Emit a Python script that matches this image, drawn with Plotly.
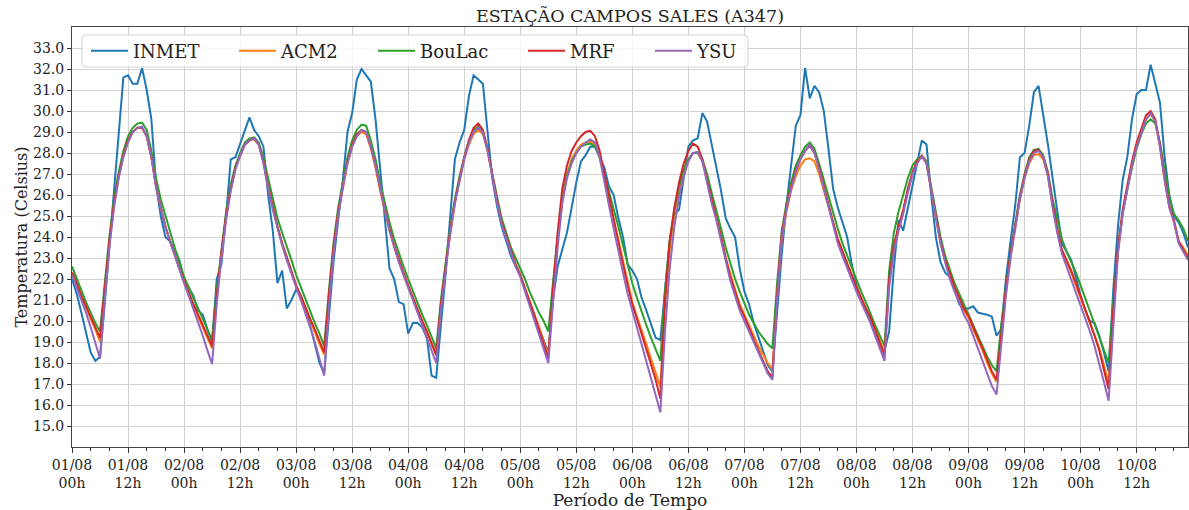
import plotly.graph_objects as go

# Hourly temperatures, 01/08 00h .. 10/08 23h (one row per day)
INMET = [
    22.0, 21.3, 20.4, 19.4, 18.5, 18.1, 18.3, 20.8, 23.6, 26.3, 29.0, 31.6, 31.7, 31.3, 31.3, 32.05, 31.0, 29.6, 26.5, 25.0, 24.0, 23.8, 23.4, 22.9,
    22.0, 21.6, 21.2, 20.5, 20.3, 19.6, 19.0, 22.0, 22.7, 25.0, 27.7, 27.8, 28.4, 29.1, 29.7, 29.1, 28.8, 28.3, 26.0, 24.3, 21.8, 22.4, 20.6, 21.0,
    21.5, 21.2, 20.6, 19.8, 18.9, 18.0, 17.5, 20.0, 22.8, 24.8, 26.7, 29.0, 29.9, 31.5, 32.0, 31.7, 31.4, 29.6, 27.3, 25.0, 22.5, 22.0, 20.9, 20.8,
    19.4, 19.9, 19.9, 19.7, 19.2, 17.4, 17.3, 19.8, 22.2, 25.0, 27.7, 28.5, 29.1, 30.7, 31.7, 31.5, 31.3, 29.0, 26.8, 25.5, 24.5, 23.8, 23.1, 22.6,
    22.2, 21.5, 20.9, 20.2, 19.6, 19.1, 18.5, 21.0, 22.6, 23.4, 24.2, 25.4, 26.6, 27.6, 27.9, 28.3, 28.3, 27.8, 27.3, 26.4, 26.0, 24.9, 24.0, 22.7,
    22.4, 22.0, 21.1, 20.5, 19.8, 19.2, 19.1, 21.3, 23.8, 25.1, 25.3, 26.8, 28.3, 28.6, 28.7, 29.9, 29.5, 28.4, 27.3, 26.2, 24.9, 24.4, 24.0, 22.5,
    21.4, 20.8, 19.9, 19.2, 18.5, 17.9, 17.6, 20.5, 23.2, 25.5, 27.3, 29.3, 29.8, 32.05, 30.6, 31.2, 30.9, 30.0, 28.2, 26.3, 25.4, 24.7, 24.0, 22.7,
    21.7, 21.0, 20.5, 20.0, 19.3, 18.8, 18.6, 19.5, 22.5, 24.8, 24.3, 25.4, 26.5, 27.6, 28.6, 28.4, 26.0, 24.0, 22.8, 22.3, 22.1, 21.5, 20.8, 20.6,
    20.6, 20.7, 20.4, 20.35, 20.3, 20.2, 19.3, 19.6, 22.0, 23.8, 25.5, 27.8, 28.0, 29.3, 30.9, 31.2, 29.9, 28.4, 26.8, 25.3, 23.7, 23.3, 22.9, 22.1,
    21.2, 20.5, 20.0, 19.9, 19.3, 18.5, 17.6, 21.5, 24.5, 26.7, 27.8, 29.6, 30.8, 31.0, 31.0, 32.2, 31.3, 30.4, 27.8, 26.0, 25.0, 24.7, 24.2, 23.5,
]

ACM2 = [
    22.3, 21.8, 21.2, 20.6, 20.1, 19.6, 19.0, 21.4, 23.7, 25.5, 26.9, 27.9, 28.6, 29.0, 29.2, 29.2, 28.8, 27.8, 26.4, 25.4, 24.5, 23.8, 23.1, 22.5,
    21.9, 21.3, 20.8, 20.2, 19.7, 19.2, 18.7, 21.1, 23.2, 25.0, 26.3, 27.3, 27.9, 28.4, 28.6, 28.65, 28.4, 27.6, 26.4, 25.4, 24.5, 23.7, 23.0, 22.3,
    21.7, 21.2, 20.6, 20.0, 19.5, 18.9, 18.4, 21.1, 23.4, 25.1, 26.4, 27.5, 28.3, 28.8, 29.0, 28.9, 28.2, 27.3, 26.2, 25.2, 24.3, 23.5, 22.8, 22.2,
    21.6, 21.0, 20.5, 20.0, 19.4, 18.9, 18.35, 20.7, 22.6, 24.2, 25.6, 26.7, 27.7, 28.4, 28.9, 29.1, 28.9, 28.1, 26.9, 25.8, 24.7, 24.0, 23.3, 22.7,
    22.2, 21.6, 20.9, 20.3, 19.7, 19.0, 18.35, 21.2, 23.8, 25.8, 27.0, 27.7, 28.1, 28.4, 28.5, 28.55, 28.4, 27.8, 26.8, 25.8, 24.8, 23.8, 22.8, 21.8,
    20.9, 20.2, 19.6, 18.9, 18.2, 17.5, 16.85, 20.8, 23.4, 25.1, 26.3, 27.2, 27.7, 28.0, 28.0, 27.6, 26.7, 25.8, 25.0, 24.0, 23.0, 22.2, 21.5, 20.8,
    20.3, 19.8, 19.3, 18.8, 18.4, 18.0, 17.7, 21.2, 23.9, 25.2, 26.2, 26.9, 27.4, 27.7, 27.75, 27.6, 27.0, 26.2, 25.4, 24.6, 23.9, 23.3, 22.7, 22.1,
    21.6, 21.1, 20.6, 20.2, 19.6, 19.1, 18.5, 21.8, 23.5, 24.4, 25.2, 26.2, 27.0, 27.6, 27.9, 27.6, 26.2, 24.9, 23.7, 22.8, 22.1, 21.5, 21.0, 20.5,
    20.15, 19.6, 19.1, 18.6, 18.0, 17.5, 17.1, 19.4, 21.4, 23.1, 24.4, 25.8, 26.8, 27.5, 27.9, 27.95, 27.7, 26.9, 25.5, 24.3, 23.3, 22.8, 22.3, 21.7,
    21.1, 20.5, 19.9, 19.3, 18.7, 17.9, 17.0, 20.3, 23.3, 25.1, 26.3, 27.4, 28.3, 29.0, 29.6, 29.85, 29.5, 28.3, 26.7, 25.4, 24.7, 23.8, 23.5, 23.1,
]

BOULAC = [
    22.6, 22.0, 21.4, 20.9, 20.4, 19.9, 19.5, 21.8, 24.0, 25.8, 27.1, 28.1, 28.8, 29.2, 29.4, 29.45, 29.1, 28.1, 26.8, 25.8, 25.0, 24.2, 23.5, 22.8,
    22.1, 21.6, 21.1, 20.6, 20.1, 19.6, 19.1, 21.5, 23.5, 25.2, 26.5, 27.4, 28.0, 28.5, 28.7, 28.75, 28.5, 27.8, 26.8, 25.8, 24.9, 24.2, 23.6, 22.9,
    22.2, 21.6, 21.0, 20.5, 19.9, 19.4, 18.8, 21.4, 23.7, 25.4, 26.7, 27.8, 28.6, 29.1, 29.35, 29.3, 28.6, 27.7, 26.6, 25.6, 24.7, 23.9, 23.2, 22.6,
    22.0, 21.4, 20.8, 20.3, 19.8, 19.2, 18.7, 21.0, 22.9, 24.5, 25.8, 26.9, 27.8, 28.6, 29.1, 29.25, 29.0, 28.2, 27.0, 25.9, 24.9, 24.2, 23.5, 23.0,
    22.5, 22.0, 21.4, 20.9, 20.4, 20.0, 19.5, 21.8, 24.0, 25.8, 26.9, 27.6, 28.0, 28.3, 28.4, 28.45, 28.3, 27.8, 27.0, 26.2, 25.4, 24.5, 23.6, 22.7,
    21.8, 21.1, 20.4, 19.8, 19.2, 18.6, 18.1, 21.5, 23.8, 25.3, 26.4, 27.2, 27.7, 28.0, 28.0, 27.7, 27.0, 26.1, 25.3, 24.4, 23.5, 22.7, 22.0, 21.4,
    20.8, 20.3, 19.9, 19.5, 19.2, 18.9, 18.7, 21.8, 24.3, 25.6, 26.6, 27.4, 27.9, 28.3, 28.5, 28.2, 27.5, 26.7, 25.9, 25.1, 24.4, 23.7, 23.1, 22.6,
    22.0, 21.4, 20.9, 20.3, 19.8, 19.3, 18.8, 22.4, 24.2, 25.2, 26.0, 26.8, 27.4, 27.7, 27.85, 27.6, 26.4, 25.1, 24.0, 23.1, 22.4, 21.8, 21.3, 20.8,
    20.3, 19.8, 19.3, 18.8, 18.3, 17.9, 17.6, 19.8, 21.7, 23.3, 24.6, 26.0, 27.0, 27.8, 28.15, 28.2, 27.9, 27.1, 25.8, 24.8, 23.9, 23.3, 22.8, 22.3,
    21.7, 21.1, 20.5, 19.9, 19.3, 18.7, 18.0, 20.9, 23.4, 25.1, 26.3, 27.3, 28.2, 28.9, 29.4, 29.6, 29.4, 28.5, 27.1, 25.9, 25.1, 24.8, 24.4, 23.8,
]

MRF = [
    22.3, 21.8, 21.2, 20.7, 20.2, 19.7, 19.2, 21.5, 23.8, 25.6, 26.9, 27.9, 28.6, 29.0, 29.2, 29.2, 28.8, 27.8, 26.4, 25.4, 24.5, 23.8, 23.1, 22.5,
    21.9, 21.3, 20.8, 20.3, 19.8, 19.3, 18.8, 21.2, 23.3, 25.0, 26.3, 27.3, 27.9, 28.4, 28.6, 28.7, 28.4, 27.6, 26.4, 25.4, 24.5, 23.7, 23.0, 22.3,
    21.7, 21.2, 20.6, 20.1, 19.6, 19.0, 18.5, 21.2, 23.5, 25.2, 26.5, 27.6, 28.4, 28.9, 29.1, 29.0, 28.3, 27.4, 26.3, 25.3, 24.4, 23.6, 22.9, 22.3,
    21.7, 21.1, 20.5, 20.0, 19.5, 18.9, 18.4, 20.8, 22.7, 24.3, 25.7, 26.8, 27.8, 28.6, 29.2, 29.4, 29.1, 28.2, 26.9, 25.8, 24.7, 24.0, 23.3, 22.7,
    22.2, 21.6, 20.9, 20.3, 19.6, 18.9, 18.2, 21.5, 24.2, 26.3, 27.4, 28.1, 28.5, 28.8, 29.0, 29.05, 28.8, 28.1, 27.0, 25.9, 24.9, 23.8, 22.7, 21.7,
    20.8, 20.1, 19.4, 18.7, 18.0, 17.2, 16.3, 21.0, 23.8, 25.4, 26.6, 27.5, 28.1, 28.45, 28.3, 27.7, 26.7, 25.8, 25.0, 24.0, 23.0, 22.1, 21.4, 20.7,
    20.2, 19.7, 19.1, 18.6, 18.1, 17.6, 17.3, 21.3, 24.2, 25.4, 26.4, 27.2, 27.7, 28.1, 28.35, 28.0, 27.3, 26.4, 25.6, 24.7, 23.9, 23.3, 22.7, 22.1,
    21.6, 21.1, 20.6, 20.2, 19.6, 19.0, 18.35, 22.0, 23.6, 24.5, 25.3, 26.3, 27.1, 27.6, 27.85, 27.5, 26.2, 25.0, 23.8, 22.9, 22.2, 21.6, 21.1, 20.6,
    20.25, 19.7, 19.2, 18.7, 18.1, 17.6, 17.2, 19.5, 21.5, 23.2, 24.5, 25.9, 26.9, 27.7, 28.1, 28.15, 27.8, 27.0, 25.6, 24.4, 23.4, 22.9, 22.4, 21.8,
    21.2, 20.6, 20.0, 19.3, 18.6, 17.7, 16.75, 20.5, 23.5, 25.3, 26.5, 27.6, 28.5, 29.2, 29.8, 30.0, 29.6, 28.4, 26.8, 25.5, 24.8, 23.8, 23.4, 23.0,
]

YSU = [
    22.2, 21.6, 21.05, 20.4, 19.7, 18.9, 18.2, 21.0, 23.5, 25.4, 26.8, 27.8, 28.5, 29.0, 29.2, 29.25, 28.8, 27.8, 26.4, 25.4, 24.5, 23.8, 23.1, 22.5,
    21.8, 21.2, 20.6, 20.0, 19.3, 18.6, 17.95, 20.8, 23.1, 24.8, 26.2, 27.2, 27.9, 28.4, 28.6, 28.7, 28.4, 27.5, 26.3, 25.3, 24.4, 23.6, 22.9, 22.2,
    21.6, 21.0, 20.4, 19.7, 19.0, 18.2, 17.4, 20.6, 23.2, 25.0, 26.4, 27.5, 28.3, 28.8, 29.1, 29.0, 28.3, 27.4, 26.3, 25.3, 24.3, 23.5, 22.8, 22.2,
    21.6, 21.0, 20.4, 19.8, 19.2, 18.6, 18.0, 20.5, 22.5, 24.2, 25.6, 26.7, 27.7, 28.5, 29.0, 29.2, 29.0, 28.1, 26.8, 25.7, 24.6, 23.9, 23.2, 22.6,
    22.1, 21.4, 20.8, 20.1, 19.4, 18.7, 18.0, 20.8, 23.5, 25.6, 26.8, 27.5, 28.0, 28.3, 28.5, 28.65, 28.5, 27.8, 26.6, 25.5, 24.4, 23.3, 22.3, 21.3,
    20.5, 19.7, 18.9, 18.1, 17.3, 16.5, 15.65, 19.5, 22.5, 24.5, 25.9, 26.9, 27.6, 28.0, 28.05, 27.6, 26.6, 25.6, 24.8, 23.8, 22.8, 21.9, 21.2, 20.5,
    20.0, 19.5, 19.0, 18.5, 18.0, 17.5, 17.2, 21.0, 24.0, 25.3, 26.3, 27.1, 27.7, 28.1, 28.4, 28.0, 27.2, 26.3, 25.4, 24.5, 23.7, 23.1, 22.5, 21.9,
    21.4, 20.9, 20.4, 19.9, 19.3, 18.7, 18.1, 21.6, 23.3, 24.3, 25.1, 26.1, 27.0, 27.5, 27.85, 27.5, 26.2, 24.9, 23.7, 22.8, 22.0, 21.4, 20.9, 20.3,
    19.9, 19.3, 18.7, 18.1, 17.5, 16.9, 16.5, 19.0, 21.2, 23.0, 24.4, 25.8, 26.8, 27.6, 28.0, 28.1, 27.8, 26.9, 25.4, 24.2, 23.2, 22.6, 22.0, 21.4,
    20.8, 20.2, 19.5, 18.8, 18.0, 17.1, 16.2, 20.0, 23.2, 25.1, 26.3, 27.4, 28.3, 29.0, 29.6, 29.9, 29.5, 28.3, 26.7, 25.4, 24.7, 23.7, 23.3, 22.9,
]

SERIES_NAMES = ["INMET", "ACM2", "BouLac", "MRF", "YSU"]
SERIES_COLORS = ["#1f77b4", "#ff7f0e", "#2ca02c", "#d62728", "#9467bd"]

TICK_LABELS = [
    "01/08<br>00h", "01/08<br>12h", "02/08<br>00h", "02/08<br>12h", "03/08<br>00h",
    "03/08<br>12h", "04/08<br>00h", "04/08<br>12h", "05/08<br>00h", "05/08<br>12h",
    "06/08<br>00h", "06/08<br>12h", "07/08<br>00h", "07/08<br>12h", "08/08<br>00h",
    "08/08<br>12h", "09/08<br>00h", "09/08<br>12h", "10/08<br>00h", "10/08<br>12h",
]
Y_TICKS = [15, 16, 17, 18, 19, 20, 21, 22, 23, 24, 25, 26, 27, 28, 29, 30, 31, 32, 33]

W, H = 1189, 510
ML, MR, MT, MB = 72, 1, 27, 63
PW, PH = W - ML - MR, H - MT - MB
FONT = "DejaVu Serif"


def px_x(px):
    return (px - ML) / PW


def px_y(py):
    return (H - MB - py) / PH


fig = go.Figure()
all_series = [INMET, ACM2, BOULAC, MRF, YSU]
legend_ids = ["legend", "legend2", "legend3", "legend4", "legend5"]
legend_starts = [88, 236, 375, 525, 652]

for name, color, ys, lid in zip(SERIES_NAMES, SERIES_COLORS, all_series, legend_ids):
    fig.add_trace(go.Scatter(
        x=list(range(len(ys))), y=ys, mode="lines", name=name,
        line=dict(color=color, width=2), legend=lid, showlegend=True,
    ))

layout_legends = {}
for lid, start in zip(legend_ids, legend_starts):
    layout_legends[lid] = dict(
        x=px_x(start - 2), xanchor="left", y=px_y(51), yanchor="middle",
        bgcolor="rgba(0,0,0,0)", borderwidth=0, itemwidth=37,
        font=dict(family=FONT, size=18, color="#222"),
    )

# legend frame (rounded rectangle)
bx0, bx1, by0, by1 = px_x(82), px_x(748), px_y(67), px_y(35)
rx, ry = 4 / PW, 4 / PH
path = (f"M{bx0+rx},{by0} L{bx1-rx},{by0} Q{bx1},{by0} {bx1},{by0+ry} "
        f"L{bx1},{by1-ry} Q{bx1},{by1} {bx1-rx},{by1} L{bx0+rx},{by1} "
        f"Q{bx0},{by1} {bx0},{by1-ry} L{bx0},{by0+ry} Q{bx0},{by0} {bx0+rx},{by0} Z")
fig.add_shape(type="path", path=path, xref="paper", yref="paper",
              fillcolor="rgba(255,255,255,0.8)", line=dict(color="#d4d4d4", width=1),
              layer="above")

fig.update_layout(
    width=W, height=H, showlegend=True,
    margin=dict(l=ML, r=MR, t=MT, b=MB, autoexpand=False),
    paper_bgcolor="white", plot_bgcolor="white",
    font=dict(family=FONT, color="#222"),
    title=dict(text="ESTAÇÃO CAMPOS SALES (A347)", x=(ML + PW / 2) / W, xanchor="center",
               y=1 - 16 / H, yanchor="middle", yref="container",
               font=dict(family=FONT, size=17.5, color="#222")),
    **layout_legends,
)

fig.update_xaxes(
    range=[0, len(INMET) - 1],
    tickmode="array", tickvals=[12 * i for i in range(len(TICK_LABELS))], ticktext=TICK_LABELS,
    tickfont=dict(family=FONT, size=14, color="#222"),
    ticks="outside", ticklen=5, tickcolor="#333", tickwidth=1,
    minor=dict(dtick=4, tick0=0, ticks="outside", ticklen=3, tickcolor="#333", showgrid=False),
    showgrid=True, gridcolor="#d2d2d2", gridwidth=1,
    showline=True, linecolor="#444", linewidth=1, mirror=True,
    zeroline=False, automargin=False,
    title=dict(text="Período de Tempo", font=dict(family=FONT, size=17, color="#222"), standoff=2),
)
fig.update_yaxes(
    range=[14, 34],
    tickmode="array", tickvals=Y_TICKS, tickformat=".1f",
    tickfont=dict(family=FONT, size=14, color="#222"),
    ticks="outside", ticklen=4, tickcolor="#333", tickwidth=1,
    showgrid=True, gridcolor="#d2d2d2", gridwidth=1,
    showline=True, linecolor="#444", linewidth=1, mirror=True,
    zeroline=False, automargin=False,
    title=dict(text="Temperatura (Celsius)", font=dict(family=FONT, size=16, color="#222"), standoff=1),
)

fig.write_html("out.html")
